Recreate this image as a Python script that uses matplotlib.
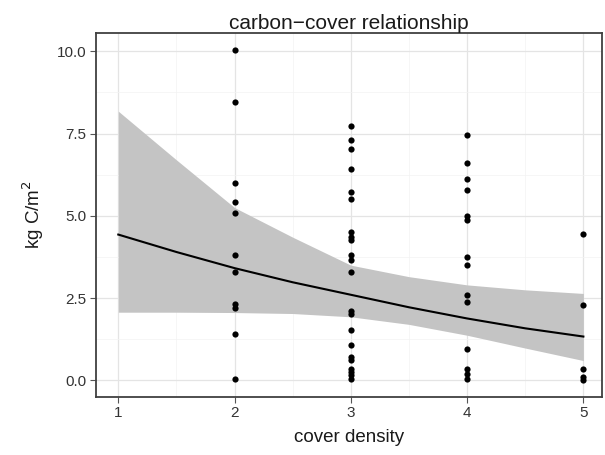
import matplotlib
matplotlib.use("Agg")
from matplotlib import pyplot as plt

plt.rcParams['font.family'] = ['Liberation Sans', 'DejaVu Sans']

# observed carbon stock per cover density class
cover = [2] * 11 + [3] * 22 + [4] * 14 + [5] * 5
carbon = [10.05, 8.45, 6.0, 5.42, 5.08, 3.82, 3.3, 2.32, 2.2, 1.42, 0.04,
          7.73, 7.3, 7.03, 6.42, 5.72, 5.5, 4.5, 4.36, 4.25, 3.8, 3.65, 3.3,
          2.12, 2.02, 1.54, 1.06, 0.71, 0.61, 0.35, 0.25, 0.15, 0.03,
          7.45, 6.62, 6.13, 5.78, 5.0, 4.87, 3.74, 3.5, 2.58, 2.38, 0.96,
          0.35, 0.2, 0.05,
          4.44, 2.3, 0.35, 0.1, 0.02]

# fitted curve and confidence band
fit_x = [1, 1.5, 2, 2.5, 3, 3.5, 4, 4.5, 5]
fit_y = [4.43, 3.9, 3.41, 2.98, 2.6, 2.22, 1.88, 1.58, 1.33]
fit_lo = [2.07, 2.07, 2.06, 2.03, 1.93, 1.7, 1.37, 0.98, 0.6]
fit_hi = [8.18, 6.7, 5.25, 4.35, 3.5, 3.15, 2.9, 2.75, 2.64]

x_ticks = [1, 2, 3, 4, 5]
y_ticks = [0.0, 2.5, 5.0, 7.5, 10.0]

fig = plt.figure(figsize=(6.05, 4.55), dpi=100)
ax = fig.add_axes([0.159, 0.128, 0.836, 0.799])

ax.fill_between(fit_x, fit_lo, fit_hi, color='#c4c4c4', lw=0, zorder=2)
ax.plot(fit_x, fit_y, color='black', lw=1.5, zorder=3)
ax.scatter(cover, carbon, s=20, color='black', zorder=4, linewidths=0)

ax.set_xlim(0.81, 5.16)
ax.set_ylim(-0.5, 10.55)
ax.set_xticks(x_ticks)
ax.set_xticklabels([str(t) for t in x_ticks])
ax.set_yticks(y_ticks)
ax.set_yticklabels(['%.1f' % t for t in y_ticks])
ax.set_xticks([1.5, 2.5, 3.5, 4.5], minor=True)
ax.set_yticks([1.25, 3.75, 6.25, 8.75], minor=True)

ax.grid(which='major', color='#e4e4e4', lw=0.9, zorder=0)
ax.grid(which='minor', color='#f3f3f3', lw=0.5, zorder=0)
ax.set_axisbelow(True)

for s in ax.spines.values():
    s.set_color('#404040')
    s.set_linewidth(1.3)

ax.tick_params(which='major', length=4, width=0.8, color='#555555',
               labelsize=11, labelcolor='#333333', pad=3)
ax.tick_params(which='minor', length=0)

ax.set_title('carbon\u2212cover relationship', fontsize=15, color='#1a1a1a', pad=3)
ax.set_xlabel('cover density', fontsize=13.5, color='#1a1a1a', labelpad=6)
ax.set_ylabel('kg C/m$^2$', fontsize=13.5, color='#1a1a1a', labelpad=8)

fig.savefig('out.png', dpi=100)
